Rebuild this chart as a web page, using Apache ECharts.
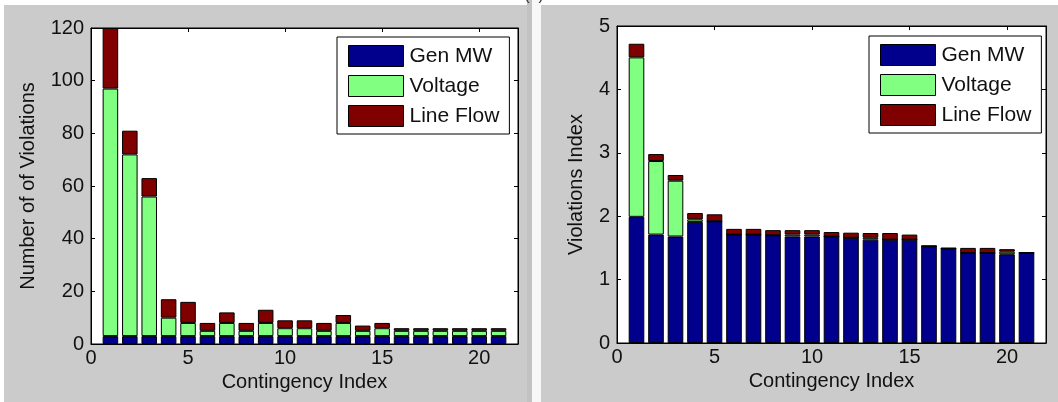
<!DOCTYPE html>
<html>
<head>
<meta charset="utf-8">
<script src="https://cdn.jsdelivr.net/npm/echarts@6/dist/echarts.min.js"></script>
<style>
  html, body { margin: 0; padding: 0; background: #fff; }
  #chart { width: 1058px; height: 402px; }
</style>
</head>
<body>
<div id="chart"></div>
<script>
// Contingency cases, ranked
const contingencies = [1, 2, 3, 4, 5, 6, 7, 8, 9, 10, 11, 12, 13, 14, 15, 16, 17, 18, 19, 20, 21];

// Number of violations per contingency, by type
const countGenMW    = [3, 3, 3, 3, 3, 3, 3, 3, 3, 3, 3, 3, 3, 3, 3, 3, 3, 3, 3, 3, 3];
const countVoltage  = [94, 69, 53, 7, 5, 2, 5, 2, 5, 3, 3, 2, 5, 2, 3, 2, 2, 2, 2, 2, 2];
const countLineFlow = [23, 9, 7, 7, 8, 3, 4, 3, 5, 3, 3, 3, 3, 2, 2, 1, 1, 1, 1, 1, 1];

// Violations index per contingency, by type
const indexGenMW    = [1.99, 1.71, 1.68, 1.91, 1.92, 1.71, 1.71, 1.70, 1.68, 1.68, 1.68, 1.66, 1.63, 1.63, 1.63, 1.525, 1.49, 1.42, 1.42, 1.40, 1.42];
const indexVoltage  = [2.515, 1.16, 0.88, 0.04, 0, 0, 0, 0, 0.03, 0.03, 0, 0, 0.03, 0, 0, 0, 0, 0, 0, 0.04, 0];
const indexLineFlow = [0.215, 0.11, 0.09, 0.10, 0.11, 0.09, 0.09, 0.08, 0.07, 0.07, 0.07, 0.08, 0.075, 0.105, 0.08, 0.01, 0.01, 0.08, 0.08, 0.04, 0.01];

const seriesNames = ['Gen MW', 'Voltage', 'Line Flow'];
const xTicks = { min: 0, max: 22, interval: 5 };
const countTicks = { min: 0, max: 120, interval: 20 };
const indexTicks = { min: 0, max: 5, interval: 1 };

const colors = ['#00008c', '#80ff80', '#800000'];
const FONT = '"Liberation Sans", Arial, Helvetica, sans-serif';

const grids = [
  { left: 91, top: 28, width: 427, height: 316 },
  { left: 617, top: 26, width: 429, height: 317 }
];

// Integer slots spanning the x range; bars sit on the slots of their contingency
const slots = [];
for (let s = xTicks.min; s <= xTicks.max; s++) slots.push(String(s));

function onSlots(values) {
  return slots.map(s => {
    const i = contingencies.indexOf(Number(s));
    return i >= 0 ? values[i] : '-';
  });
}

function xAxes(gridIndex, name) {
  const base = {
    type: 'value', gridIndex, min: xTicks.min, max: xTicks.max, interval: xTicks.interval,
    axisLine: { show: true, onZero: false, lineStyle: { color: '#000', width: 1 } },
    axisTick: { show: true, inside: true, length: 4, lineStyle: { color: '#000' } },
    splitLine: { show: false }
  };
  return [
    // slot axis that positions the bars, not drawn
    { type: 'category', gridIndex, data: slots, boundaryGap: false, show: false },
    Object.assign({}, base, {
      position: 'bottom',
      name, nameLocation: 'middle', nameGap: 28,
      nameTextStyle: { fontSize: 20, color: '#111', fontFamily: FONT },
      axisLabel: { fontSize: 20, color: '#111', fontFamily: FONT, margin: 4, showMaxLabel: false }
    }),
    Object.assign({}, base, { position: 'top', axisLabel: { show: false } })
  ];
}

function yAxes(gridIndex, ticks, name, gap) {
  const base = {
    type: 'value', gridIndex, min: ticks.min, max: ticks.max, interval: ticks.interval,
    axisLine: { show: true, onZero: false, lineStyle: { color: '#000', width: 1 } },
    axisTick: { show: true, inside: true, length: 4, lineStyle: { color: '#000' } },
    splitLine: { show: false }
  };
  return [
    Object.assign({}, base, {
      position: 'left',
      name, nameLocation: 'middle', nameGap: gap,
      nameTextStyle: { fontSize: 20, color: '#111', fontFamily: FONT },
      axisLabel: { fontSize: 20, color: '#111', fontFamily: FONT, margin: 7 }
    }),
    Object.assign({}, base, { position: 'right', axisLabel: { show: false } })
  ];
}

function stackSeries(gridIndex, stackId, valueSets) {
  const barWidth = 0.8 * grids[gridIndex].width / (xTicks.max - xTicks.min);
  return valueSets.map((values, k) => ({
    name: seriesNames[k],
    type: 'bar',
    stack: stackId,
    xAxisIndex: gridIndex * 3,
    yAxisIndex: gridIndex * 2,
    barWidth,
    data: onSlots(values),
    itemStyle: { color: colors[k], borderColor: '#000', borderWidth: 1 },
    emphasis: { disabled: true },
    animation: false
  }));
}

function legendAt(left, top) {
  return {
    left, top, orient: 'vertical',
    data: seriesNames,
    selectedMode: false,
    backgroundColor: '#fff',
    borderColor: '#000',
    borderWidth: 1,
    padding: [8, 10, 7, 11],
    itemWidth: 55,
    itemHeight: 21,
    itemGap: 8,
    icon: 'rect',
    itemStyle: { borderColor: '#000', borderWidth: 1 },
    textStyle: { fontSize: 21, color: '#111', fontFamily: FONT, lineHeight: 21, padding: [0, 0, 0, 1] }
  };
}

const chart = echarts.init(document.getElementById('chart'), null, { renderer: 'canvas' });
chart.setOption({
  animation: false,
  backgroundColor: '#cbcbcb',
  textStyle: { fontFamily: FONT },
  graphic: [
    { type: 'rect', shape: { x: 0, y: 0, width: 1058, height: 5 }, style: { fill: '#fff' }, silent: true },
    { type: 'rect', shape: { x: 0, y: 0, width: 4, height: 402 }, style: { fill: '#fff' }, silent: true },
    { type: 'rect', shape: { x: 527, y: 0, width: 5, height: 402 }, style: { fill: '#c2c2c2' }, silent: true },
    { type: 'rect', shape: { x: 532, y: 0, width: 9, height: 402 }, style: { fill: '#f7f7f7' }, silent: true },
    { type: 'text', x: 534, y: 4, style: { text: '(a)', fontSize: 16, fontFamily: FONT, fill: '#333', textAlign: 'center', textVerticalAlign: 'bottom' }, silent: true }
  ],
  grid: grids.map(g => Object.assign({ show: true, backgroundColor: '#fff', borderColor: '#000', borderWidth: 1 }, g)),
  legend: [legendAt(337, 37), legendAt(869, 36)],
  xAxis: [].concat(xAxes(0, 'Contingency Index'), xAxes(1, 'Contingency Index')),
  yAxis: [].concat(yAxes(0, countTicks, 'Number of of Violations', 53), yAxes(1, indexTicks, 'Violations Index', 31)),
  series: [].concat(
    stackSeries(0, 'count', [countGenMW, countVoltage, countLineFlow]),
    stackSeries(1, 'index', [indexGenMW, indexVoltage, indexLineFlow])
  )
});
</script>
</body>
</html>
